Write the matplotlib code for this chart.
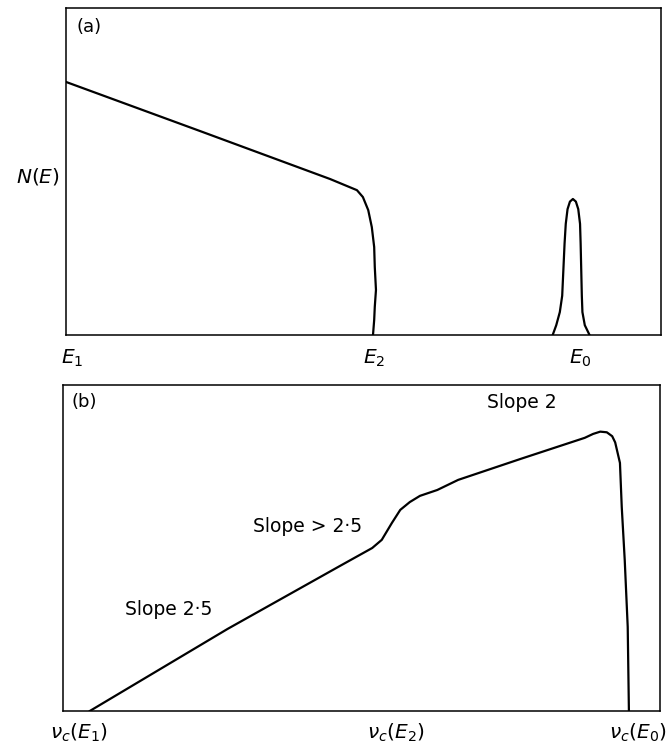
import matplotlib.pyplot as plt

plt.rcParams['mathtext.fontset'] = 'dejavusans'
plt.rcParams['font.family'] = 'DejaVu Sans'

# (a) electron energy distribution N(E), axes fraction units
e_cont = [0.0, 0.225, 0.444, 0.489, 0.499, 0.508, 0.514, 0.518, 0.519, 0.521, 0.519, 0.518, 0.516]
n_cont = [0.774, 0.624, 0.477, 0.443, 0.422, 0.382, 0.330, 0.269, 0.208, 0.138, 0.086, 0.046, 0.0]

e_peak = [0.818, 0.824, 0.830, 0.834, 0.836, 0.838, 0.840, 0.843, 0.847, 0.852,
          0.857, 0.861, 0.864, 0.865, 0.866, 0.867, 0.868, 0.872, 0.880]
n_peak = [0.0, 0.030, 0.070, 0.120, 0.200, 0.280, 0.340, 0.385, 0.408, 0.416,
          0.408, 0.385, 0.340, 0.280, 0.200, 0.120, 0.070, 0.030, 0.0]

e_ticks = [0.010, 0.518, 0.865]
e_labels = [r'$E_1$', r'$E_2$', r'$E_0$']

# (b) emitted spectrum (log-log), axes fraction units
nu = [0.045, 0.276, 0.464, 0.518, 0.534, 0.551, 0.565, 0.581, 0.598, 0.627, 0.662,
      0.766, 0.874, 0.888, 0.900, 0.911, 0.920, 0.925, 0.933, 0.936, 0.941, 0.946, 0.948]
flux = [0.0, 0.252, 0.445, 0.500, 0.525, 0.577, 0.617, 0.641, 0.660, 0.678, 0.709,
        0.773, 0.838, 0.850, 0.857, 0.855, 0.843, 0.824, 0.761, 0.626, 0.463, 0.258, 0.0]

nu_ticks = [0.027, 0.558, 0.963]
nu_labels = [r'$\nu_c(E_1)$', r'$\nu_c(E_2)$', r'$\nu_c(E_0)$']

slope_text = ['Slope 2·5', 'Slope > 2·5', 'Slope 2']
slope_x = [0.104, 0.318, 0.710]
slope_y = [0.310, 0.567, 0.945]

fig = plt.figure(figsize=(6.7, 7.51), dpi=100)
ax1 = fig.add_axes([0.0985, 0.5539, 0.888, 0.4354])
ax2 = fig.add_axes([0.094, 0.0533, 0.891, 0.434])

for ax in (ax1, ax2):
    ax.set_xlim(0, 1)
    ax.set_ylim(0, 1)
    ax.set_yticks([])
    ax.tick_params(length=0, labelsize=14.5)
    for s in ax.spines.values():
        s.set_linewidth(1.1)

ax1.plot(e_cont, n_cont, color='black', lw=1.6)
ax1.plot(e_peak, n_peak, color='black', lw=1.6)
ax1.set_xticks(e_ticks)
ax1.set_xticklabels(e_labels)
ax1.tick_params(axis='x', pad=9)
ax1.text(0.017, 0.97, '(a)', transform=ax1.transAxes, fontsize=13, va='top', ha='left')
ax1.set_ylabel(r'$N(E)$', rotation=0, fontsize=14.5, ha='right', va='center')
ax1.yaxis.set_label_coords(-0.01, 0.486)

ax2.plot(nu, flux, color='black', lw=1.6)
ax2.set_xticks(nu_ticks)
ax2.set_xticklabels(nu_labels)
ax2.tick_params(axis='x', pad=8)
ax2.text(0.015, 0.975, '(b)', transform=ax2.transAxes, fontsize=13, va='top', ha='left')
for t, x, y in zip(slope_text, slope_x, slope_y):
    ax2.text(x, y, t, fontsize=13.5, ha='left', va='center')

fig.savefig('out.png', dpi=100)
